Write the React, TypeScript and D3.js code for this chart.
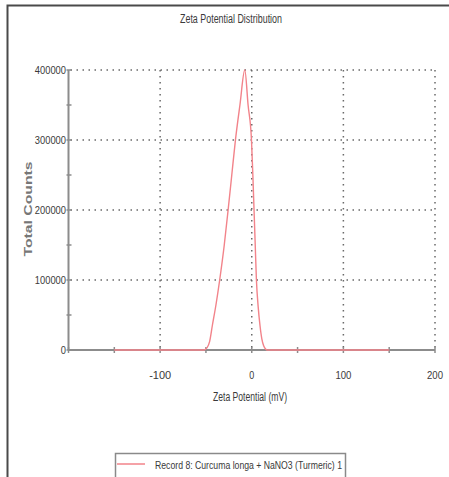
import React from "react";
import * as d3 from "d3";

// Zeta potential distribution record (mV vs total counts)
const zeta: number[] = [-150, -52, -49, -46, -43, -39, -35, -30, -25.8, -21.8, -17.8, -12.9, -7.6, -4, -0.3, 1.2, 2.5, 3.8, 5.1, 7, 9, 11, 13, 15, 17, 150];
const counts: number[] = [0, 0, 3000, 12000, 35000, 65000, 100000, 150000, 200000, 250000, 300000, 350000, 400000, 350000, 300000, 250000, 200000, 150000, 100000, 62000, 35000, 16000, 6000, 1500, 0, 0];

const xMajorTicks: number[] = [-100, 0, 100, 200];
const xMinorTicks: number[] = [-200, -150, -100, -50, 0, 50, 100, 150, 200];
const yMajorTicks: number[] = [0, 100000, 200000, 300000, 400000];
const yMinorTicks: number[] = [0, 50000, 100000, 150000, 200000, 250000, 300000, 350000, 400000];

const title = "Zeta Potential Distribution";
const xTitle = "Zeta Potential (mV)";
const yTitle = "Total Counts";
const legendLabel = "Record 8: Curcuma longa + NaNO3 (Turmeric) 1";

const W = 449;
const H = 477;
const font = "'Liberation Sans', Arial, sans-serif";

export default function App() {
  const x = d3.scaleLinear().domain([-200, 200]).range([68.5, 435]);
  const y = d3.scaleLinear().domain([0, 400000]).range([350, 70]);

  const pts: [number, number][] = zeta.map((z, i) => [z, counts[i]]);
  const line = d3
    .line<[number, number]>()
    .x((d) => x(d[0]))
    .y((d) => y(d[1]))
    .curve(d3.curveMonotoneX);

  const axisColor = "#8c8c8c";
  const gridColor = "#444";
  const textColor = "#3a3a3a";
  const curveColor = "#f2838a";

  const xLabelWidth = (v: number) => (v === 0 ? 5 : v < 0 ? 22 : 16);

  return (
    <svg
      width={W}
      height={H}
      style={{ position: "absolute", left: 0, top: 0, display: "block", background: "#fff" }}
    >
      {/* outer frame */}
      <path d={`M7.5,${H} V5.5 H${W}`} fill="none" stroke="#4a4a4a" strokeWidth={2} />

      {/* title */}
      <text
        x={231}
        y={23}
        textAnchor="middle"
        fontFamily={font}
        fontSize={12}
        fill={textColor}
        textLength={102}
        lengthAdjust="spacingAndGlyphs"
      >
        {title}
      </text>

      {/* dotted grid */}
      <g stroke={gridColor} strokeWidth={1.5} strokeDasharray="1.5,4.5" opacity={0.8}>
        {yMajorTicks
          .filter((v) => v > 0)
          .map((v) => (
            <line key={`gy${v}`} x1={x(-200) + 2} x2={x(200)} y1={y(v)} y2={y(v)} />
          ))}
        {xMajorTicks.map((v) => (
          <line key={`gx${v}`} x1={x(v)} x2={x(v)} y1={y(400000)} y2={y(0)} />
        ))}
      </g>

      {/* axes */}
      <line x1={x(-200)} x2={x(-200)} y1={y(400000)} y2={y(0)} stroke={axisColor} strokeWidth={2} />
      <line x1={x(-200)} x2={x(200)} y1={y(0)} y2={y(0)} stroke={axisColor} strokeWidth={2} />
      {yMinorTicks.map((v) => (
        <line key={`ty${v}`} x1={x(-200) - 2} x2={x(-200) + 3} y1={y(v)} y2={y(v)} stroke={axisColor} strokeWidth={1.5} />
      ))}
      {xMinorTicks.map((v) => (
        <line key={`tx${v}`} x1={x(v)} x2={x(v)} y1={y(0) - 3} y2={y(0) + 3} stroke={axisColor} strokeWidth={1.5} />
      ))}

      {/* y tick labels */}
      {yMajorTicks.map((v) => {
        const s = String(v);
        return (
          <text
            key={`ly${v}`}
            x={66}
            y={y(v) + 4}
            textAnchor="end"
            fontFamily={font}
            fontSize={11}
            fill={textColor}
            textLength={s.length * 5.2}
            lengthAdjust="spacingAndGlyphs"
          >
            {s}
          </text>
        );
      })}

      {/* x tick labels */}
      {xMajorTicks.map((v) => (
        <text
          key={`lx${v}`}
          x={x(v)}
          y={379}
          textAnchor="middle"
          fontFamily={font}
          fontSize={11}
          fill={textColor}
          textLength={xLabelWidth(v)}
          lengthAdjust="spacingAndGlyphs"
        >
          {v}
        </text>
      ))}

      {/* axis titles */}
      <text
        x={250}
        y={401}
        textAnchor="middle"
        fontFamily={font}
        fontSize={12}
        fill={textColor}
        textLength={74}
        lengthAdjust="spacingAndGlyphs"
      >
        {xTitle}
      </text>
      <text
        transform="translate(32,209) rotate(-90)"
        textAnchor="middle"
        fontFamily={font}
        fontSize={10}
        fontWeight="bold"
        fill="#777"
        textLength={95}
        lengthAdjust="spacingAndGlyphs"
      >
        {yTitle}
      </text>

      {/* distribution curve */}
      <path d={line(pts) ?? ""} fill="none" stroke={curveColor} strokeWidth={1.4} strokeLinejoin="round" />

      {/* legend */}
      <path d={`M115.5,${H} V453.5 H345.5 V${H}`} fill="none" stroke="#8a8a8a" strokeWidth={1.5} />
      <line x1={117} x2={145} y1={464} y2={464} stroke={curveColor} strokeWidth={1.5} />
      <text
        x={155}
        y={469}
        fontFamily={font}
        fontSize={11}
        fill={textColor}
        textLength={187}
        lengthAdjust="spacingAndGlyphs"
      >
        {legendLabel}
      </text>
    </svg>
  );
}
